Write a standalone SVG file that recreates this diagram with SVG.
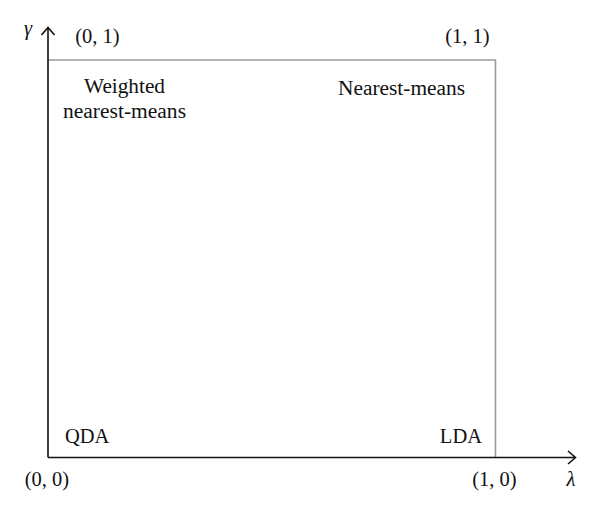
<svg xmlns="http://www.w3.org/2000/svg" width="600" height="514" viewBox="0 0 600 514">
<style>
text{font-family:"Liberation Serif","Times New Roman",serif;font-size:20.5px;fill:#111}
.it{font-style:italic}
.ax{stroke:#111;stroke-width:1.6;fill:none}
.box{stroke:#9a9a9a;stroke-width:1.6;fill:none}
</style>
<rect width="600" height="514" fill="#fff"/>
<g id="connectors">
<path class="box" d="M48,60 H495.5 V457"/>
<path class="ax" d="M48,457.5 V28"/>
<path class="ax" d="M41.5,35 L48,27.5 L54.5,35"/>
<path class="ax" d="M48,457.5 H575"/>
<path class="ax" d="M568,451 L575.5,457.5 L568,464"/>
</g>
<g id="axis-labels">
<text class="it" x="28" y="35" text-anchor="middle">γ</text>
<text class="it" x="571" y="486" text-anchor="middle">λ</text>
</g>
<g id="corner-01"><text x="97.5" y="43" text-anchor="middle">(0, 1)</text></g>
<g id="corner-11"><text x="467.5" y="43" text-anchor="middle">(1, 1)</text></g>
<g id="corner-00"><text x="47" y="486" text-anchor="middle">(0, 0)</text></g>
<g id="corner-10"><text x="494.5" y="486" text-anchor="middle">(1, 0)</text></g>
<g id="weighted"><text x="124.5" y="93" text-anchor="middle" textLength="81" lengthAdjust="spacingAndGlyphs">Weighted</text><text x="124.5" y="117.5" text-anchor="middle" textLength="123" lengthAdjust="spacingAndGlyphs">nearest-means</text></g>
<g id="nearest"><text x="401.5" y="95" text-anchor="middle" textLength="127" lengthAdjust="spacingAndGlyphs">Nearest-means</text></g>
<g id="qda"><text x="65" y="443">QDA</text></g>
<g id="lda"><text x="482" y="443" text-anchor="end">LDA</text></g>
</svg>
